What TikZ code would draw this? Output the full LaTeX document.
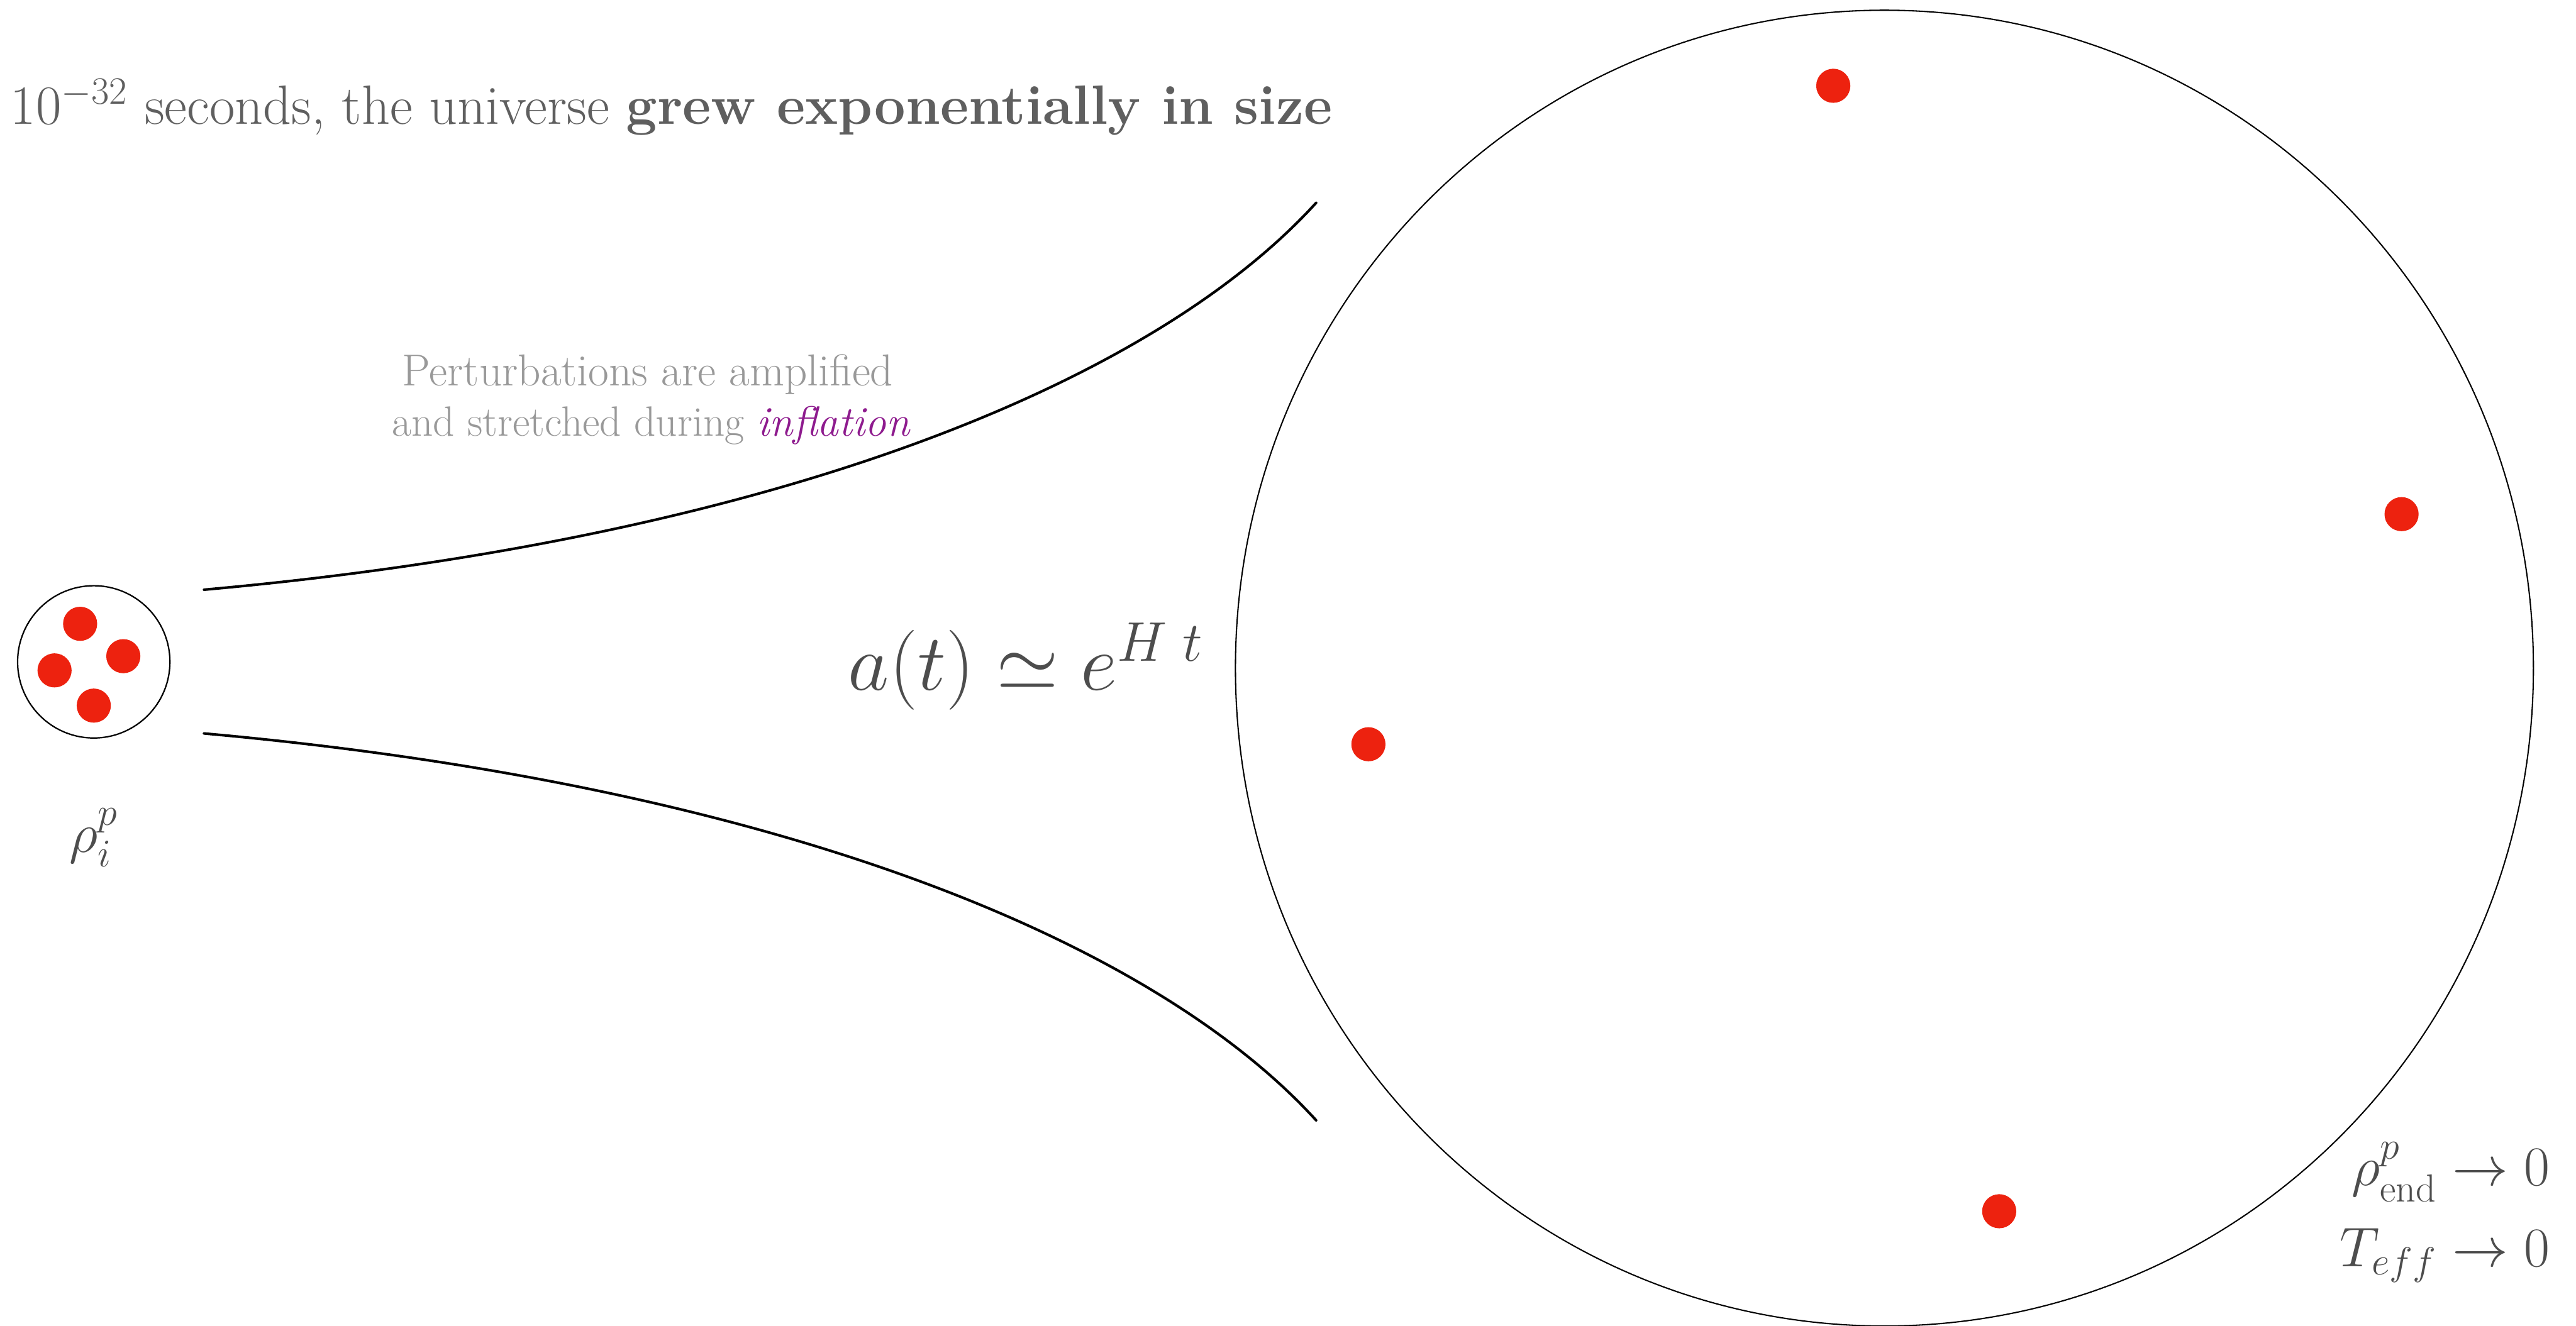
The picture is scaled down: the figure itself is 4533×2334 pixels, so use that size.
\RequirePackage{fix-cm}
\documentclass[tikz,border=0pt]{standalone}
\usepackage{amsmath}
\definecolor{dotred}{RGB}{237,34,15}
\definecolor{toptext}{RGB}{95,95,95}
\definecolor{mathgray}{RGB}{77,77,77}
\definecolor{pertgray}{RGB}{153,153,153}
\definecolor{inflpurple}{RGB}{142,27,142}
\begin{document}
\begin{tikzpicture}[x=0.01cm,y=-0.01cm,
  reddot/.style={circle, fill=dotred, inner sep=0pt, minimum size=0.6cm},
  bigring/.style={line width=0.65pt},
  smallring/.style={line width=0.7pt},
  funnel/.style={line width=1.3pt, line cap=round},
  mathlabel/.style={inner sep=0pt, text=mathgray},
  perttext/.style={anchor=base, inner sep=0pt, text=pertgray}
]
\fill[white] (0,0) rectangle (4533,2334);
\useasboundingbox (0,0) rectangle (4533,2334);

% title
\node[anchor=base west, inner sep=0pt, text=toptext, font=\fontsize{27.7}{33}\selectfont] (title) at (18,219)
  {10$^{-32}$ seconds, the universe \textbf{grew exponentially in size}};

% small initial patch
\draw[smallring] (165,1165) circle [radius=134];
\node[reddot] (s1) at (141,1098) {};
\node[reddot] (s2) at (217,1155) {};
\node[reddot] (s3) at (96,1180) {};
\node[reddot] (s4) at (165,1242) {};
\node[mathlabel, anchor=base, font=\fontsize{28}{34}\selectfont] (rhoi) at (165,1500) {$\rho_i^p$};

% funnel curves
\coordinate (u0) at (359,1038);
\coordinate (u1) at (2316,357);
\coordinate (l0) at (359,1291);
\coordinate (l1) at (2316,1972);
\draw[funnel] (u0) .. controls (1359,948) and (2026,676) .. (u1);
\draw[funnel] (l0) .. controls (1359,1381) and (2026,1653) .. (l1);

% perturbation text
\node[perttext, font=\fontsize{22.4}{27}\selectfont] (pert1) at (1140,679) {Perturbations are amplified};
\node[perttext, font=\fontsize{21.2}{27}\selectfont] (pert2) at (1146,768) {and stretched during \textcolor{inflpurple}{\textit{inflation}}};

% scale factor
\node[mathlabel, anchor=base west, font=\fontsize{40}{48}\selectfont] (scale) at (1492,1215) {$a(t)\simeq e^{H\;t}$};

% big region
\draw[bigring] (3316,1176) ellipse [x radius=1142, y radius=1158];
\node[reddot] (b1) at (3226,151) {};
\node[reddot] (b2) at (4226,905) {};
\node[reddot] (b3) at (2408,1310) {};
\node[reddot] (b4) at (3518,2132) {};

% final values
\node[mathlabel, anchor=base east, font=\fontsize{28}{37.5}\selectfont] (limits) at (4487,2087)
  {$\begin{aligned}[t] \rho^p_{\mathrm{end}} &\to 0\\ T_{eff} &\to 0\end{aligned}$};
\end{tikzpicture}
\end{document}
